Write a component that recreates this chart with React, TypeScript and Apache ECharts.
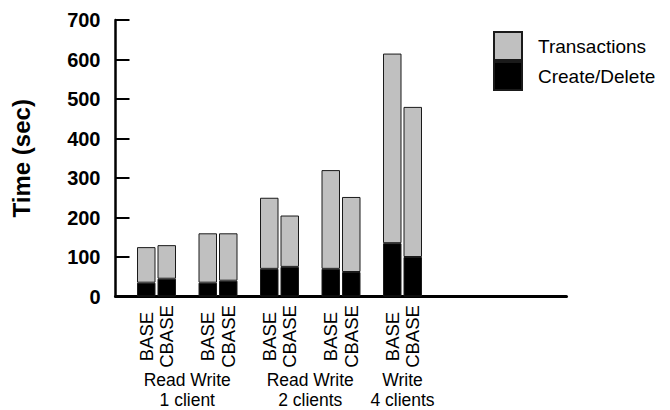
import React, { useEffect, useRef } from "react";
import * as echarts from "echarts";

// Workload configurations (one pair of bars each)
const configs = ["Read, 1 client", "Write, 1 client", "Read, 2 clients", "Write, 2 clients", "Write, 4 clients"];
const systems = ["BASE", "CBASE"];
// Values per bar, in order BASE, CBASE for each configuration (seconds)
const createDelete = [35, 45, 35, 40, 70, 75, 70, 62, 135, 100];
const transactions = [90, 85, 125, 120, 180, 130, 250, 190, 480, 380];
// Group labels under the configurations (two lines each)
const groupOps = ["Read Write", "Read Write", "Write"];
const groupClients = ["1 client", "2 clients", "4 clients"];
const groupMembers = [[0, 1], [2, 3], [4]];
const yTicks = [0, 100, 200, 300, 400, 500, 600, 700];
const seriesNames = ["Transactions", "Create/Delete"];

const FONT = "'Liberation Sans', Arial, Helvetica, sans-serif";
const TOTAL_SLOTS = 22;

export default function App() {
  const ref = useRef<HTMLDivElement>(null);
  useEffect(() => {
    if (!ref.current) return;
    const chart = echarts.init(ref.current, undefined, { renderer: "svg" });

    // Build slot layout: a gap, then pairs of bars separated by gaps
    const slotLabels: string[] = [""];
    const cdSlots: (number | null)[] = [null];
    const trSlots: (number | null)[] = [null];
    configs.forEach((_, k) => {
      systems.forEach((s, j) => {
        slotLabels.push(s);
        cdSlots.push(createDelete[k * systems.length + j]);
        trSlots.push(transactions[k * systems.length + j]);
      });
      slotLabels.push("");
      cdSlots.push(null);
      trSlots.push(null);
    });
    while (slotLabels.length < TOTAL_SLOTS) {
      slotLabels.push("");
      cdSlots.push(null);
      trSlots.push(null);
    }
    // group label axes: points at every half slot
    const opsPoints: string[] = new Array(TOTAL_SLOTS * 2 + 1).fill("");
    const clientPoints: string[] = new Array(TOTAL_SLOTS * 2 + 1).fill("");
    groupMembers.forEach((members, g) => {
      const centers = members.map((k) => 4 + 6 * k);
      const c = Math.round(centers.reduce((a, b) => a + b, 0) / centers.length);
      opsPoints[c] = groupOps[g];
      clientPoints[c] = groupClients[g];
    });

    const barStyleBase = { borderColor: "#1a1a1a", borderWidth: 1 };
    const groupAxis = (data: string[], margin: number) => ({
      type: "category",
      data,
      position: "bottom",
      boundaryGap: false,
      axisLine: { show: false },
      axisTick: { show: false },
      axisLabel: {
        interval: 0,
        margin,
        fontFamily: FONT,
        fontSize: 17.5,
        lineHeight: 20,
        color: "#000",
      },
    });

    chart.setOption({
      animation: false,
      textStyle: { fontFamily: FONT, color: "#000" },
      grid: { left: 115.5, top: 20, width: 451, height: 276.5, containLabel: false },
      legend: {
        data: [seriesNames[0], seriesNames[1]],
        orient: "vertical",
        left: 493,
        top: 31,
        padding: 0,
        itemGap: 0,
        itemWidth: 28,
        itemHeight: 28,
        icon: "rect",
        selectedMode: false,
        textStyle: { fontFamily: FONT, fontSize: 19, color: "#000", padding: [0, 0, 0, 11] },
      },
      xAxis: [
        {
          type: "category",
          data: slotLabels,
          axisLine: { lineStyle: { color: "#000", width: 3 } },
          axisTick: { show: false },
          axisLabel: {
            interval: 0,
            rotate: 90,
            align: "center",
            verticalAlign: "middle",
            margin: 40,
            fontFamily: FONT,
            fontSize: 18.5,
            color: "#000",
          },
        },
        groupAxis(opsPoints, 73),
        groupAxis(clientPoints, 93),
      ],
      yAxis: {
        type: "value",
        min: yTicks[0],
        max: yTicks[yTicks.length - 1],
        interval: 100,
        name: "Time (sec)",
        nameLocation: "middle",
        nameGap: 82,
        nameTextStyle: { fontFamily: FONT, fontSize: 24, fontWeight: "bold", color: "#000" },
        axisLine: { show: true, lineStyle: { color: "#000", width: 2.5 } },
        axisTick: { show: true, inside: true, length: 14, lineStyle: { color: "#000", width: 2 } },
        axisLabel: { margin: 15, fontFamily: FONT, fontSize: 20, fontWeight: "bold", color: "#000" },
        splitLine: { show: false },
      },
      series: [
        {
          name: seriesNames[1],
          type: "bar",
          stack: "total",
          barWidth: 18.5,
          data: cdSlots,
          itemStyle: { color: "#000", ...barStyleBase },
        },
        {
          name: seriesNames[0],
          type: "bar",
          stack: "total",
          barWidth: 18.5,
          data: trSlots,
          itemStyle: { color: "#c0c0c0", ...barStyleBase },
        },
      ],
    });
    return () => chart.dispose();
  }, []);
  return (
    <div
      ref={ref}
      style={{ position: "fixed", left: 0, top: 0, width: 670, height: 410, background: "#fff" }}
    />
  );
}
